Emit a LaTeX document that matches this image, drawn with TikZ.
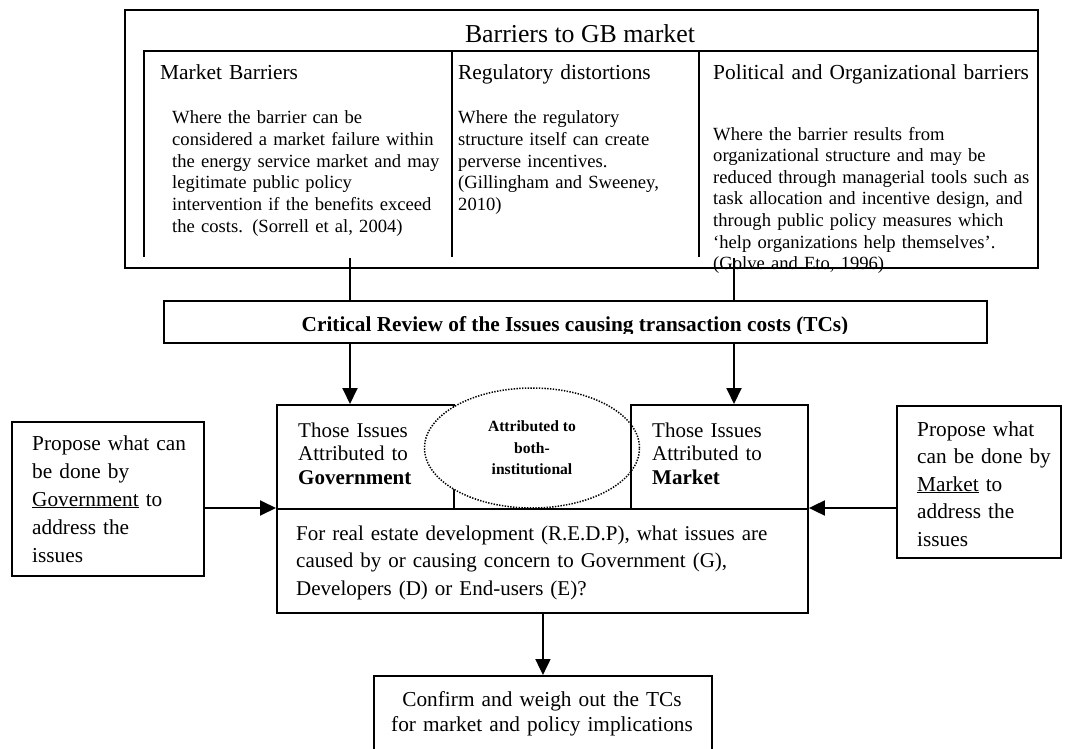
\documentclass[tikz,border=0pt]{standalone}
\usepackage{fontspec}
\setmainfont{Liberation Serif}
\usetikzlibrary{arrows.meta,shapes.geometric}

\tikzset{
  box/.style={draw, line width=1.9pt, rectangle, inner sep=0pt, anchor=north west},
  txt/.style={anchor=base west, align=left, inner sep=0pt, text width=#1},
  link/.style={line width=1.9pt},
  arr/.style={line width=1.9pt, -{Triangle[length=16pt,width=15pt]}},
  bodyfont/.style={font=\fontsize{18.6}{21.6}\selectfont},
  headfont/.style={font=\fontsize{21.4}{24}\selectfont},
}

\begin{document}
\begin{tikzpicture}[x=1pt,y=-1pt]
\useasboundingbox (0,0) rectangle (1073,749);

% barriers table
\node[box, minimum width=913pt, minimum height=258pt] (gb) at (124,9) {};
\node[anchor=base, inner sep=0pt, font=\fontsize{25.8}{28}\selectfont] (title) at (580,43) {Barriers to GB market};
\draw[link] (144,257) -- (144,51) -- (gb.east |- 0,51);
\draw[link] (452,51) -- (452,257);
\draw[link] (699,51) -- (699,257);
\node[txt=280pt, headfont] (mkthead) at (160,80) {Market Barriers};
\node[txt=235pt, headfont] (reghead) at (458,80) {Regulatory distortions};
\node[txt=360pt, headfont] (polhead) at (713,80) {Political and Organizational barriers};
\node[txt=300pt, bodyfont] (mktbody) at (172,124) {Where the barrier can be\\ considered a market failure within\\ the energy service market and may\\ legitimate public policy\\ intervention if the benefits exceed\\ the costs. (Sorrell et al, 2004)};
\node[txt=260pt, bodyfont] (regbody) at (458,124) {Where the regulatory\\ structure itself can create\\ perverse incentives.\\ (Gillingham and Sweeney,\\ 2010)};
\node[txt=360pt, bodyfont] (polbody) at (713,140) {Where the barrier results from\\ organizational structure and may be\\ reduced through managerial tools such as\\ task allocation and incentive design, and\\ through public policy measures which\\ ‘help organizations help themselves’.\\ (Golve and Eto, 1996)};
\coordinate (mktfoot) at (350,258);
\coordinate (polfoot) at (734,258);

% critical review
\node[box, minimum width=823pt, minimum height=42pt] (crit) at (163,300) {};
\begin{scope}
  \clip (163,300) rectangle (986,333);
  \node[anchor=base, inner sep=0pt, font=\fontsize{21.3}{24}\selectfont\bfseries] (crittext) at (575,331) {Critical Review of the Issues causing transaction costs (TCs)};
\end{scope}
\draw[link] (mktfoot) -- (mktfoot |- crit.north);
\draw[link] (polfoot) -- (polfoot |- crit.north);

% attributed boxes
\node[box, minimum width=177pt, minimum height=104pt] (gov) at (276,404) {};
\node[txt=170pt, font=\fontsize{21}{23.5}\selectfont] (govtext) at (298,437) {Those Issues\\ Attributed to\\ \textbf{Government}};
\node[draw, ellipse, dash pattern=on 1.4pt off 1.4pt, line width=1.5pt, fill=white, minimum width=215pt, minimum height=120pt, inner sep=0pt, align=center, font=\fontsize{15.6}{21.5}\selectfont\bfseries] (both) at (532,448) {Attributed to\\ both-\\ institutional};
\node[box, minimum width=177pt, minimum height=104pt] (mktbox) at (630,404) {};
\node[txt=170pt, font=\fontsize{21}{23.5}\selectfont] (mkttext) at (652,437) {Those Issues\\ Attributed to\\ \textbf{Market}};
\node[box, minimum width=531pt, minimum height=104pt] (redp) at (276,508) {};
\node[txt=520pt, font=\fontsize{21}{27.5}\selectfont] (redptext) at (296,540) {For real estate development (R.E.D.P), what issues are\\ caused by or causing concern to Government (G),\\ Developers (D) or End-users (E)?};

% proposals
\node[box, minimum width=192pt, minimum height=154pt] (govprop) at (11,421) {};
\node[txt=190pt, font=\fontsize{21.3}{28}\selectfont] (govproptext) at (32,450) {Propose what can\\ be done by\\ \underline{Government} to\\ address the\\ issues};
\node[box, minimum width=164pt, minimum height=152pt] (mktprop) at (896,405) {};
\node[txt=160pt, font=\fontsize{21.3}{27.5}\selectfont] (mktproptext) at (917,436) {Propose what\\ can be done by\\ \underline{Market} to\\ address the\\ issues};

% confirm
\node[box, minimum width=338pt, minimum height=90pt] (confirm) at (373,675) {};
\node[anchor=base, align=center, text width=330pt, inner sep=0pt, font=\fontsize{21.3}{25}\selectfont] (confirmtext) at (542,706) {Confirm and weigh out the TCs\\ for market and policy implications};

\draw[arr] (mktfoot |- crit.south) -- (mktfoot |- gov.north);
\draw[arr] (polfoot |- crit.south) -- (polfoot |- mktbox.north);
\draw[arr] (govprop.east |- redp.north) -- (redp.north west);
\draw[arr] (mktprop.west |- redp.north) -- (redp.north east);
\draw[arr] (confirm.north |- redp.south) -- (confirm.north);
\end{tikzpicture}
\end{document}
